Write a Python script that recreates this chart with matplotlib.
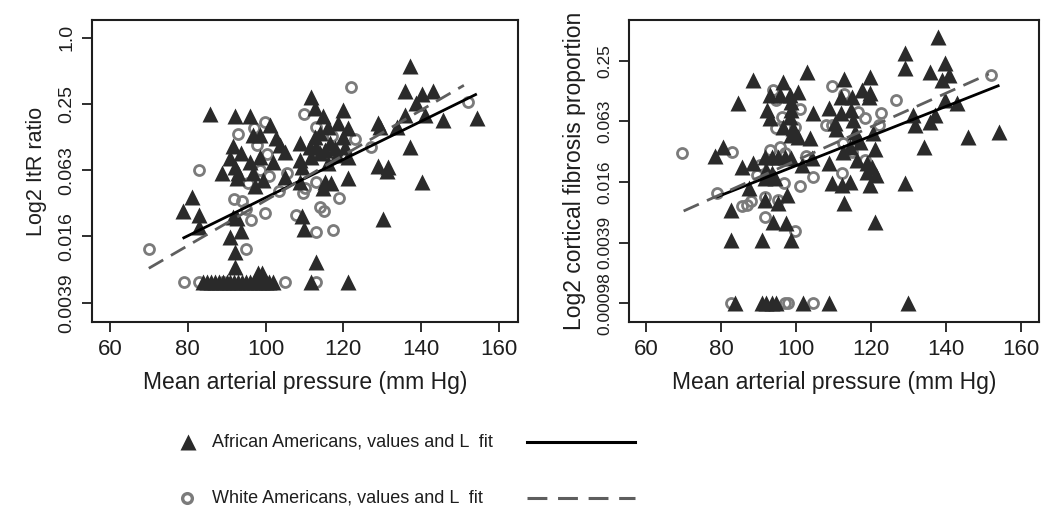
import matplotlib.pyplot as plt
from matplotlib.lines import Line2D

plt.rcParams['font.family'] = ['Liberation Sans', 'DejaVu Sans']

# ---- data, y values are log2 of the ratio/proportion ----
# left panel: ItR ratio, African Americans
aa_map_l = [85.7, 92.1, 96.0, 111.8, 112.7, 114.9, 120.0, 137.1, 135.8, 140.1, 143.1, 138.8,
            135.8, 140.9, 145.7, 154.3, 133.7, 129.0, 129.4, 137.1, 129.0, 131.6, 131.2, 140.1,
            130.1, 101.1, 96.8, 98.6, 102.8, 103.7, 105.0, 91.7, 93.8, 90.8, 98.6, 95.9, 102.0,
            92.1, 93.0, 96.8, 88.7, 99.4, 97.3, 92.6, 105.0, 108.8, 111.4, 113.1, 108.8, 109.3,
            111.8, 114.0, 115.2, 116.5, 117.8, 118.3, 120.0, 120.4, 121.3, 118.7, 116.1, 121.3,
            114.0, 112.7, 116.1, 115.2, 116.9, 114.9, 121.3, 108.8, 81.0, 78.7, 83.0, 83.0,
            92.6, 91.7, 90.8, 93.8, 109.3, 109.9, 92.1, 92.1, 112.9, 111.8, 121.3,
            84, 85, 86, 87, 88, 89, 90, 91, 92, 93, 94, 95, 96, 97, 98, 99, 100, 101, 102, 98, 99]
aa_itr = [-2.30, -2.36, -2.36, -1.78, -2.13, -2.38, -2.18, -0.85, -1.60, -1.70, -1.60, -1.98,
          -2.33, -2.33, -2.48, -2.43, -2.71, -2.59, -2.69, -3.29, -3.87, -3.89, -4.04, -4.35,
          -5.48, -2.64, -2.94, -2.94, -3.04, -3.24, -3.44, -3.27, -3.49, -3.64, -3.59, -3.74, -3.74,
          -3.89, -4.09, -4.09, -4.09, -4.30, -4.48, -4.25, -4.20, -3.19, -3.29, -3.29, -3.69, -3.89,
          -3.59, -3.49, -3.39, -3.19, -3.34, -3.54, -2.99, -3.29, -3.59, -2.59, -2.69, -2.74,
          -2.89, -2.99, -3.79, -4.35, -4.40, -4.55, -4.25, -4.35, -4.80, -5.23, -5.35, -5.70,
          -5.45, -5.40, -6.01, -5.82, -5.38, -5.78, -6.46, -6.91, -6.76, -7.36, -7.36,
          -7.36, -7.36, -7.36, -7.36, -7.36, -7.36, -7.36, -7.36, -7.36, -7.36, -7.36, -7.36,
          -7.36, -7.36, -7.36, -7.36, -7.36, -7.36, -7.36, -7.11, -7.11]
# left panel: ItR ratio, White Americans
wa_map_l = [70.0, 79.0, 82.9, 105.0, 113.1, 89.0, 82.9, 91.9, 94.0, 94.9, 99.8, 96.2, 94.9,
            93.0, 97.0, 99.8, 109.9, 122.1, 152.1, 97.7, 100.3, 101.0, 95.6, 103.4, 110.2, 109.7,
            112.9, 113.1, 117.0, 123.0, 127.0, 118.9, 114.1, 115.1, 117.3, 112.9, 107.8, 117.8,
            105.4, 98.6]
wa_itr = [-6.39, -7.37, -7.37, -7.37, -7.37, -7.37, -3.99, -4.88, -4.92, -5.18, -5.30, -5.50, -6.37,
          -2.91, -2.74, -2.56, -2.30, -1.50, -1.94, -3.24, -3.51, -4.18, -4.38, -4.62, -4.55, -4.68,
          -4.35, -2.69, -2.97, -3.07, -3.29, -4.85, -5.12, -5.22, -5.80, -5.88, -5.35, -3.49,
          -4.09, -3.99]

# right panel: cortical fibrosis proportion, African Americans
aa_map_r = [138.0, 129.0, 129.0, 135.9, 139.9, 141.0, 139.0, 139.9, 143.0, 154.2, 146.0, 137.1,
            135.9, 134.1, 131.2, 131.7, 129.0, 130.0, 102.9, 88.6, 96.6, 112.7, 119.8, 117.6,
            119.8, 119.4, 114.9, 112.1, 100.6, 98.4, 95.7, 93.0, 84.6, 92.4, 98.6, 98.8, 93.0,
            98.4, 96.6, 99.2, 104.6, 108.7, 112.1, 114.8, 115.3, 110.4, 110.8, 115.8, 116.2,
            117.1, 114.4, 112.6, 120.7, 121.2, 98.6, 100.6, 103.7, 104.2, 101.5, 108.7, 116.2,
            119.1, 120.4, 121.3, 119.1, 119.9, 114.5, 112.3, 109.6, 112.8, 121.0, 80.5, 78.3,
            85.6, 88.6, 91.7, 93.5, 95.3, 97.1, 98.8, 92.1, 93.5, 94.4, 91.7, 87.5, 91.7, 95.3,
            97.5, 82.6, 93.8, 97.4, 82.6, 90.8, 98.8,
            83.7, 90.8, 92.1, 93.5, 94.8, 102.0, 108.7]
aa_fib = [-1.21, -1.76, -2.25, -2.36, -2.09, -2.47, -2.64, -3.30, -3.39, -4.34, -4.51, -3.79,
          -4.01, -4.84, -3.79, -4.12, -6.03, -10.0, -2.36, -2.64, -2.70, -2.62, -2.53, -2.97,
          -3.06, -3.19, -3.19, -3.19, -3.02, -3.13, -3.13, -3.13, -3.41, -3.63, -3.35, -3.63, -3.90,
          -3.85, -4.18, -4.23, -3.74, -3.57, -3.72, -3.63, -3.96, -4.07, -4.27, -4.34, -4.51,
          -4.67, -4.84, -5.00, -4.40, -4.93, -4.45, -4.51, -4.56, -5.22, -5.44, -5.39, -5.28,
          -5.39, -5.50, -5.77, -5.66, -6.10, -5.99, -6.10, -6.03, -6.71, -7.31, -4.84, -5.15,
          -5.50, -5.39, -5.17, -5.17, -5.17, -5.17, -5.22, -5.61, -5.72, -5.88, -5.88, -6.21, -6.60, -6.71,
          -6.43, -6.93, -7.31, -7.35, -7.92, -7.92, -7.92,
          -10.0, -10.0, -10.0, -10.0, -10.0, -10.0, -10.0]
# right panel: cortical fibrosis proportion, White Americans
wa_map_r = [69.6, 82.8, 78.8, 85.6, 87.0, 88.1, 89.5, 91.7, 91.7, 90.4, 93.0, 95.7, 94.8, 96.2,
            94.0, 94.8, 97.1, 96.9, 95.2, 99.7, 101.1, 99.7, 101.1, 104.6, 102.8, 109.6, 107.9,
            109.6, 112.9, 116.5, 118.4, 122.8, 122.1, 126.8, 152.0, 112.2, 114.9, 118.4, 112.6,
            82.6, 97.1, 98.0, 104.6]
wa_fib = [-5.04, -5.00, -6.36, -6.80, -6.77, -6.62, -5.77, -6.49, -7.15, -5.44, -4.95, -4.84, -4.23,
          -3.85, -2.97, -3.30, -5.06, -6.03, -6.60, -4.20, -3.61, -7.61, -6.14, -5.83, -5.15, -2.84,
          -4.12, -4.12, -3.10, -3.68, -3.90, -3.74, -4.12, -3.30, -2.47, -5.70, -5.00, -5.28, -4.73,
          -10.0, -10.0, -10.0, -10.0]

# fitted lines (x range and log2 values at the ends)
aa_fit_l = ([79, 154], [-6.04, -1.72])
wa_fit_l = ([70, 151], [-6.96, -1.44])
aa_fit_r = ([79, 154], [-6.49, -2.83])
wa_fit_r = ([70, 151.5], [-6.96, -2.44])

xticks = [60, 80, 100, 120, 140, 160]
yticks_l = [-8, -6, -4, -2, 0]
ylabels_l = ['0.0039', '0.016', '0.063', '0.25', '1.0']
yticks_r = [-10, -8, -6, -4, -2]
ylabels_r = ['0.00098', '0.0039', '0.016', '0.063', '0.25']

tri_col = '#2a2a2a'
circ_col = '#7b7b7b'
dash_col = '#5e5e5e'
txt_col = '#1e1e1e'
dash = (6, 3.2)

fig = plt.figure(figsize=(10.42, 5.09), dpi=100)
ax1 = fig.add_axes([0.0883, 0.3674, 0.4088, 0.5933])
ax2 = fig.add_axes([0.6036, 0.3674, 0.3935, 0.5933])


def panel(ax, aa_x, aa_y, wa_x, wa_y, aa_fit, wa_fit, yt, yl, ylim, ylabel, ytick_size, ylabel_size):
    ax.plot(wa_x, wa_y, 'o', ms=7.2, mfc='none', mec=circ_col, mew=2.0, zorder=2)
    ax.plot(aa_x, aa_y, '^', ms=11, color=tri_col, mec='none', zorder=3)
    ax.plot(aa_fit[0], aa_fit[1], color='black', lw=2.0, zorder=4)
    ax.plot(wa_fit[0], wa_fit[1], color=dash_col, lw=2.0, dashes=dash, zorder=4)
    ax.set_xlim(55.4, 164.9)
    ax.set_ylim(*ylim)
    ax.set_xticks(xticks)
    ax.set_yticks(yt)
    ax.set_yticklabels(yl, rotation=90, va='center', fontsize=ytick_size)
    ax.tick_params(direction='out', length=7, width=1.3, pad=5, colors=txt_col)
    ax.tick_params(axis='x', labelsize=16)
    for s in ax.spines.values():
        s.set_linewidth(1.5)
        s.set_color(txt_col)
    ax.set_xlabel('Mean arterial pressure (mm Hg)', fontsize=16.5, labelpad=8, color=txt_col)
    ax.set_ylabel(ylabel, fontsize=ylabel_size, labelpad=8, color=txt_col)


panel(ax1, aa_map_l, aa_itr, wa_map_l, wa_itr, aa_fit_l, wa_fit_l,
      yticks_l, ylabels_l, (-8.58, 0.53), 'Log2 ItR ratio', 14, 15.5)
panel(ax2, aa_map_r, aa_fib, wa_map_r, wa_fib, aa_fit_r, wa_fit_r,
      yticks_r, ylabels_r, (-10.62, -0.66), 'Log2 cortical fibrosis proportion', 12.5, 16.5)

# legend below the panels
W, H = 1042, 509
fig.add_artist(Line2D([188 / W], [1 - 442 / H], marker='^', ms=11, color=tri_col, mec='none'))
fig.add_artist(Line2D([187 / W], [1 - 498 / H], marker='o', ms=7, mfc='none', mec=circ_col, mew=2.4))
fig.text(212 / W, 1 - 442 / H, 'African Americans, values and L  fit', fontsize=13,
         va='center', color=txt_col)
fig.text(212 / W, 1 - 498 / H, 'White Americans, values and L  fit', fontsize=13,
         va='center', color=txt_col)
fig.add_artist(Line2D([527 / W, 635 / W], [1 - 442 / H] * 2, color='black', lw=2.2))
fig.add_artist(Line2D([527 / W, 635 / W], [1 - 498 / H] * 2, color=dash_col, lw=2.2,
                      dashes=(6.5, 3.5)))

fig.savefig('out.png', dpi=100)
